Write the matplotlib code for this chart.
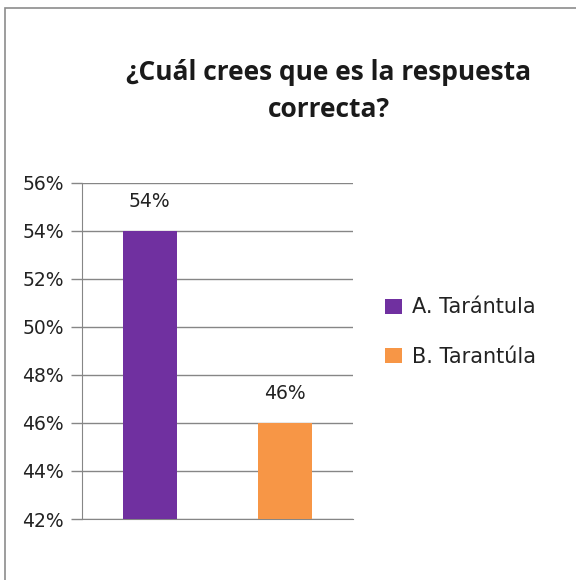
import matplotlib
matplotlib.use("Agg")
import matplotlib.pyplot as plt
from matplotlib.patches import Rectangle, Patch
from matplotlib.ticker import FuncFormatter, MultipleLocator

categories = ["A. Tarántula", "B. Tarantúla"]
values = [54, 46]
colors = ["#7030A0", "#F79646"]
title = "¿Cuál crees que es la respuesta\ncorrecta?"

W, H = 576, 580
fig = plt.figure(figsize=(W / 100, H / 100), dpi=100)
fig.patch.set_facecolor("white")

# outer chart border (only top and left visible in the crop)
fig.add_artist(Rectangle((5 / W, -0.05), 1.2, 1 - 8 / H + 0.05, transform=fig.transFigure,
                         fill=False, edgecolor="#8c8c8c", linewidth=1.2))

ax = fig.add_axes([82 / W, 61 / H, 271 / W, 336 / H])
x = [0, 1]
bars = ax.bar(x, values, width=0.4, color=colors, zorder=3)
ax.set_xlim(-0.5, 1.5)
ax.set_ylim(42, 56)
ax.yaxis.set_major_locator(MultipleLocator(2))
ax.yaxis.set_major_formatter(FuncFormatter(lambda v, p: f"{v:.0f}%"))
ax.grid(axis="y", color="#868686", linewidth=1.0, zorder=0)
ax.set_xticks([])
for s in ["top", "right"]:
    ax.spines[s].set_visible(False)
ax.spines["left"].set_color("#868686")
ax.spines["bottom"].set_color("#868686")
ax.tick_params(axis="y", length=8, width=1.0, color="#868686", pad=5,
               labelsize=13.5, labelcolor="#222222")

for xi, v in zip(x, values):
    ax.annotate(f"{v}%", (xi, v), xytext=(0, 21), textcoords="offset points",
                ha="center", va="center", fontsize=13.5, color="#222222")

handles = [Patch(facecolor=c, edgecolor="none") for c in colors]
fig.legend(handles, categories, loc="center left", bbox_to_anchor=(385 / W, 1 - 332 / H),
           frameon=False, fontsize=15, handlelength=0.82, handleheight=0.72,
           handletextpad=0.48, labelspacing=1.4, borderpad=0, borderaxespad=0,
           labelcolor="#222222")

fig.text(329 / W, 1 - 91 / H, title, ha="center", va="center", fontsize=19,
         fontweight="bold", family=["Open Sans", "DejaVu Sans"], linespacing=1.47,
         color="#1a1a1a")

fig.savefig("out.png", dpi=100, facecolor="white")
